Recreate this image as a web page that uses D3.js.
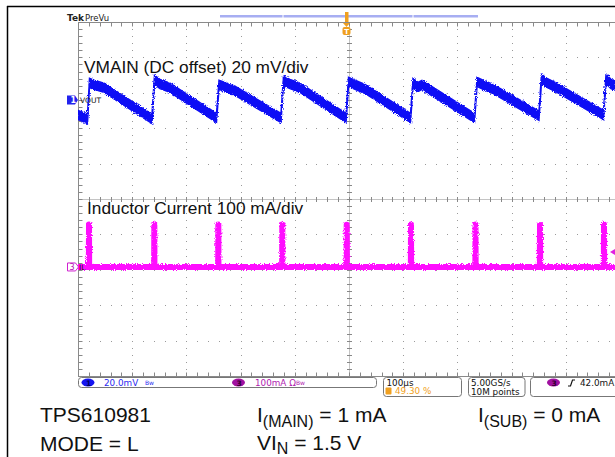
<!DOCTYPE html>
<html><head><meta charset="utf-8">
<script src="https://cdn.jsdelivr.net/npm/d3@7"></script>
<style>html,body{margin:0;padding:0;background:#fff;overflow:hidden}</style>
</head><body><svg id="c" width="615" height="457"></svg>
<script>
// ---------------- data (read from the scope capture) ----------------
const timePerDiv = 100;          // µs/div
const ch1PerDiv = 20;            // mV/div
const ch3PerDiv = 100;           // mA/div
const ch1OffsetDiv = 2.8;        // ch1 ground marker above centre
const ch3OffsetDiv = -1.92;      // ch3 ground marker below centre
const trigLevelMa = 42;          // trigger level

// VOUT (AC part, mV) vs time (µs)
const voutTimes = [0, 17.5, 21.2, 29.5, 48.0, 136.5, 141.1, 151.3, 169.7, 255.5, 260.1, 271.2, 289.7,
  374.5, 379.1, 391.1, 409.6, 494.5, 499.1, 511.1, 529.5, 613.5, 618.1, 627.3, 634.7, 649.5,
  731.6, 736.2, 747.2, 765.7, 850.5, 855.1, 865.3, 883.8, 969.6, 974.2, 983.4, 990.8];
const voutMv = [-8.5, -10.7, 9.6, 8.5, 6.8, -10.7, 11.3, 9.0, 6.8, -10.2, 8.5, 7.3, 5.1,
  -10.2, 10.7, 9.0, 6.8, -10.2, 10.2, 8.5, 6.2, -10.2, 9.6, 7.3, 8.5, 5.6,
  -10.2, 10.2, 8.5, 6.2, -9.0, 11.9, 9.6, 6.8, -8.5, 11.9, 9.0, 7.9];

// Inductor current spikes
const ilSpikeTimes = [20.3, 140.8, 258.9, 376.9, 495.8, 614.4, 733.4, 852.4, 970.5];
const ilSpikeMa = [120, 120, 120, 120, 119, 120, 120, 119, 120];
const ilBaseMa = 0;

// labels
const traceLabels = ["VMAIN (DC offset) 20 mV/div", "Inductor Current 100 mA/div"];
const statusTexts = {ch1: "20.0mV", ch3: "100mA Ω", timebase: "100µs", trigPos: "49.30 %",
  rate: "5.00GS/s", points: "10M points", trig: "42.0mA"};

// ---------------- drawing ----------------
const svg = d3.select("#c");
const L = 78, R = 620, T = 22, B = 376;
const x = d3.scaleLinear().domain([0, 10 * timePerDiv]).range([L, R]);
const gy = d3.scaleLinear().domain([-5, 5]).range([B, T]);
const yV = d3.scaleLinear().domain([(-5 - ch1OffsetDiv) * ch1PerDiv, (5 - ch1OffsetDiv) * ch1PerDiv]).range([B, T]);
const yI = d3.scaleLinear().domain([(-5 - ch3OffsetDiv) * ch3PerDiv, (5 - ch3OffsetDiv) * ch3PerDiv]).range([B, T]);

const defs = svg.append("defs");
const f = defs.append("filter").attr("id", "fuzz").attr("x", "-2%").attr("y", "-10%").attr("width", "104%").attr("height", "120%");
f.append("feTurbulence").attr("type", "fractalNoise").attr("baseFrequency", "0.9").attr("numOctaves", 1).attr("seed", 4).attr("result", "n");
f.append("feDisplacementMap").attr("in", "SourceGraphic").attr("in2", "n").attr("scale", 4).attr("xChannelSelector", "R").attr("yChannelSelector", "G");
defs.append("clipPath").attr("id", "grid").append("rect").attr("x", L).attr("y", T - 2).attr("width", R - L).attr("height", B - T + 4);

// frame
svg.append("line").attr("x1", 7).attr("x2", 615).attr("y1", 6.5).attr("y2", 6.5).attr("stroke", "#000").attr("stroke-width", 1.5);
svg.append("line").attr("x1", 7.5).attr("x2", 7.5).attr("y1", 6).attr("y2", 457).attr("stroke", "#000").attr("stroke-width", 1.5);

// grid
const g = svg.append("g");
const xMinor = d3.range(0, 1000.001, timePerDiv / 5);
const yMinor = d3.range(-5, 5.001, 0.2);
const dots = [];
for (let d = 1; d <= 9; d++) {
  if (d === 5) continue;
  const px = Math.round(x(d * timePerDiv));
  yMinor.forEach(v => dots.push([px, Math.round(gy(v))]));
}
for (let d = -4; d <= 4; d++) {
  if (d === 0) continue;
  const py = Math.round(gy(d));
  xMinor.forEach(t => dots.push([Math.round(x(t)), py]));
}
g.selectAll("rect.dot").data(dots).join("rect").attr("class", "dot")
  .attr("x", d => d[0]).attr("y", d => d[1]).attr("width", 1).attr("height", 1).attr("fill", "#9a9a9a");

const cx = Math.round(x(500)) + 0.5, cy = Math.round(gy(0)) + 0.5;
g.append("line").attr("x1", cx).attr("x2", cx).attr("y1", T).attr("y2", B).attr("stroke", "#c4c4c4");
g.append("line").attr("x1", L).attr("x2", R).attr("y1", cy).attr("y2", cy).attr("stroke", "#c4c4c4");
g.selectAll("line.ty").data(yMinor).join("line").attr("class", "ty")
  .attr("x1", cx - 2.5).attr("x2", cx + 2.5).attr("y1", d => Math.round(gy(d)) + 0.5).attr("y2", d => Math.round(gy(d)) + 0.5).attr("stroke", "#888");
g.selectAll("line.tx").data(xMinor).join("line").attr("class", "tx")
  .attr("y1", cy - 2.5).attr("y2", cy + 2.5).attr("x1", d => Math.round(x(d)) + 0.5).attr("x2", d => Math.round(x(d)) + 0.5).attr("stroke", "#888");
// border
const lx = L + 0.5;
g.append("line").attr("x1", lx).attr("x2", lx).attr("y1", T).attr("y2", B + 0.5).attr("stroke", "#8a8a8a");
g.append("line").attr("x1", L).attr("x2", R).attr("y1", T + 0.5).attr("y2", T + 0.5).attr("stroke", "#8a8a8a");
g.append("line").attr("x1", L).attr("x2", R).attr("y1", B + 0.5).attr("y2", B + 0.5).attr("stroke", "#8a8a8a");
g.selectAll("line.ly").data(yMinor).join("line").attr("class", "ly")
  .attr("x1", lx).attr("x2", lx + 4).attr("y1", d => Math.round(gy(d)) + 0.5).attr("y2", d => Math.round(gy(d)) + 0.5).attr("stroke", "#888");
g.selectAll("line.tt").data(xMinor).join("line").attr("class", "tt")
  .attr("y1", T + 0.5).attr("y2", T + 4.5).attr("x1", d => Math.round(x(d)) + 0.5).attr("x2", d => Math.round(x(d)) + 0.5).attr("stroke", "#888");
g.selectAll("line.tb").data(xMinor).join("line").attr("class", "tb")
  .attr("y1", B + 0.5).attr("y2", B - 3.5).attr("x1", d => Math.round(x(d)) + 0.5).attr("x2", d => Math.round(x(d)) + 0.5).attr("stroke", "#888");

// traces
const tr = svg.append("g").attr("clip-path", "url(#grid)");
const voutPts = voutTimes.map((t, i) => ({t, v: voutMv[i]}));
const half = 4.6;
tr.append("path").datum(voutPts)
  .attr("d", d3.area().x(d => x(d.t)).y0(d => yV(d.v) + half).y1(d => yV(d.v) - half))
  .attr("fill", "#0a0af5").attr("stroke", "#0a0af5").attr("stroke-width", 1.4).attr("filter", "url(#fuzz)");

const ilPts = [{t: 0, v: ilBaseMa}];
ilSpikeTimes.forEach((t, i) => {
  ilPts.push({t: t - 0.3, v: ilBaseMa}, {t: t, v: ilSpikeMa[i]}, {t: t + 0.3, v: ilBaseMa});
});
ilPts.push({t: 1000, v: ilBaseMa});
tr.append("path").datum(ilPts)
  .attr("d", d3.line().x(d => x(d.t)).y(d => yI(d.v)))
  .attr("fill", "none").attr("stroke", "#ff10ff").attr("stroke-width", 6).attr("stroke-linejoin", "round").attr("filter", "url(#fuzz)");

// trace labels
svg.append("text").attr("x", 84).attr("y", 72.5).attr("font-family", "Liberation Sans, Arial, sans-serif").attr("font-size", 17.3).attr("fill", "#111").text(traceLabels[0]);
svg.append("text").attr("x", 87).attr("y", 214).attr("font-family", "Liberation Sans, Arial, sans-serif").attr("font-size", 17.3).attr("fill", "#111").text(traceLabels[1]);

// channel markers
const m1y = yV(0);
svg.append("path").attr("d", `M67,${m1y - 4.5}h8l3,4.5l-3,4.5h-8z`).attr("fill", "#2222ee");
svg.append("text").attr("x", 70.5).attr("y", m1y + 3).attr("font-family", "DejaVu Sans, sans-serif").attr("font-size", 8).attr("font-weight", "bold").attr("fill", "#fff").text("1");
svg.append("text").attr("x", 80).attr("y", m1y + 3).attr("font-family", "DejaVu Sans, sans-serif").attr("font-size", 7.5).attr("fill", "#111").text("VOUT");
const m3y = yI(0);
svg.append("path").attr("d", `M67.5,${m3y - 4}h8l3,4l-3,4h-8z`).attr("fill", "#fff").attr("stroke", "#d020d0");
svg.append("text").attr("x", 69.5).attr("y", m3y + 3).attr("font-family", "DejaVu Sans, sans-serif").attr("font-size", 8).attr("fill", "#b010b0").text("3");
svg.append("text").attr("x", 79).attr("y", m3y + 3).attr("font-family", "DejaVu Sans, sans-serif").attr("font-size", 7.5).attr("fill", "#111").text("IL");
// trigger level marker (right)
const tly = yI(trigLevelMa);
svg.append("path").attr("d", `M610,${tly}l5,-3v6z`).attr("fill", "#e020e0");

// header
svg.append("text").attr("x", 67).attr("y", 20.5).attr("font-family", "DejaVu Sans, sans-serif").attr("font-size", 9).attr("font-weight", "bold").attr("fill", "#222").text("Tek");
svg.append("text").attr("x", 85).attr("y", 20.5).attr("font-family", "DejaVu Sans, sans-serif").attr("font-size", 8.5).attr("fill", "#222").text("PreVu");
svg.append("rect").attr("x", 220).attr("y", 15).attr("width", 258).attr("height", 2.5).attr("fill", "#a7aef2");
[282.5, 412.5].forEach(px => svg.append("rect").attr("x", px).attr("y", 14.5).attr("width", 1).attr("height", 3.5).attr("fill", "#fff"));
svg.append("rect").attr("x", 345).attr("y", 12).attr("width", 3.5).attr("height", 10).attr("fill", "#f0a020");
svg.append("path").attr("d", "M343,23h7l-3.5,4z").attr("fill", "#f0a020");
svg.append("rect").attr("x", 342.5).attr("y", 27).attr("width", 8).attr("height", 8).attr("rx", 2).attr("fill", "#f0a020");
svg.append("text").attr("x", 344.3).attr("y", 33.8).attr("font-family", "DejaVu Sans, sans-serif").attr("font-size", 7).attr("font-weight", "bold").attr("fill", "#fff").text("T");

// status bar
const sb = svg.append("g").attr("font-family", "DejaVu Sans, sans-serif").attr("font-size", 8.8);
sb.append("rect").attr("x", 78.5).attr("y", 377.5).attr("width", 298).attr("height", 10).attr("rx", 3).attr("fill", "#fff").attr("stroke", "#777");
sb.append("rect").attr("x", 383.5).attr("y", 377.5).attr("width", 78).attr("height", 19).attr("rx", 3).attr("fill", "#fff").attr("stroke", "#777");
sb.append("rect").attr("x", 468.5).attr("y", 377.5).attr("width", 56.5).attr("height", 19).attr("rx", 3).attr("fill", "#fff").attr("stroke", "#777");
sb.append("rect").attr("x", 530.5).attr("y", 377.5).attr("width", 95).attr("height", 19).attr("rx", 3).attr("fill", "#fff").attr("stroke", "#777");
sb.append("ellipse").attr("cx", 88).attr("cy", 382.5).attr("rx", 6.5).attr("ry", 4).attr("fill", "#1515f0");
sb.append("text").attr("x", 86).attr("y", 385.5).attr("font-size", 7.5).attr("font-weight", "bold").attr("fill", "#000060").text("1");
sb.append("text").attr("x", 104).attr("y", 385.5).attr("fill", "#2a2af0").text(statusTexts.ch1);
sb.append("text").attr("x", 145).attr("y", 385).attr("font-size", 6).attr("fill", "#2a2af0").text("Bw");
sb.append("ellipse").attr("cx", 238.5).attr("cy", 382.5).attr("rx", 6.5).attr("ry", 4).attr("fill", "#a010a0");
sb.append("text").attr("x", 236.5).attr("y", 385.5).attr("font-size", 7.5).attr("font-weight", "bold").attr("fill", "#300030").text("3");
sb.append("text").attr("x", 255).attr("y", 385.5).attr("fill", "#b020b0").text(statusTexts.ch3);
sb.append("text").attr("x", 296).attr("y", 385).attr("font-size", 6).attr("fill", "#b020b0").text("Bw");
sb.append("text").attr("x", 386.5).attr("y", 385.5).attr("fill", "#111").text(statusTexts.timebase);
sb.append("rect").attr("x", 385.5).attr("y", 387.5).attr("width", 6).attr("height", 7).attr("rx", 1).attr("fill", "#f0a020");
sb.append("text").attr("x", 395).attr("y", 394).attr("fill", "#f0a020").text(statusTexts.trigPos);
sb.append("text").attr("x", 471).attr("y", 385.5).attr("fill", "#111").text(statusTexts.rate);
sb.append("text").attr("x", 471).attr("y", 394.5).attr("fill", "#111").text(statusTexts.points);
sb.append("ellipse").attr("cx", 553.5).attr("cy", 382.5).attr("rx", 6.5).attr("ry", 4).attr("fill", "#a010a0");
sb.append("text").attr("x", 551.5).attr("y", 385.5).attr("font-size", 7.5).attr("font-weight", "bold").attr("fill", "#300030").text("3");
sb.append("path").attr("d", "M568,386h2.5l2,-6h2.5").attr("fill", "none").attr("stroke", "#111").attr("stroke-width", 1.2);
sb.append("text").attr("x", 580).attr("y", 385.5).attr("fill", "#111").text(statusTexts.trig);

// footer
const ft = svg.append("g").attr("font-family", "Liberation Sans, Arial, sans-serif").attr("font-size", 21).attr("fill", "#111");
ft.append("text").attr("x", 40).attr("y", 422).text("TPS610981");
ft.append("text").attr("x", 40).attr("y", 451).text("MODE = L");
const t1 = ft.append("text").attr("x", 257).attr("y", 422);
t1.append("tspan").text("I");
t1.append("tspan").attr("font-size", 16).attr("dy", 5).text("(MAIN)");
t1.append("tspan").attr("dy", -5).text(" = 1 mA");
const t2 = ft.append("text").attr("x", 478).attr("y", 422);
t2.append("tspan").text("I");
t2.append("tspan").attr("font-size", 16).attr("dy", 5).text("(SUB)");
t2.append("tspan").attr("dy", -5).text(" = 0 mA");
const t3 = ft.append("text").attr("x", 257).attr("y", 450);
t3.append("tspan").text("VI");
t3.append("tspan").attr("font-size", 16).attr("dy", 4).text("N");
t3.append("tspan").attr("dy", -4).text(" = 1.5 V");
</script></body></html>
